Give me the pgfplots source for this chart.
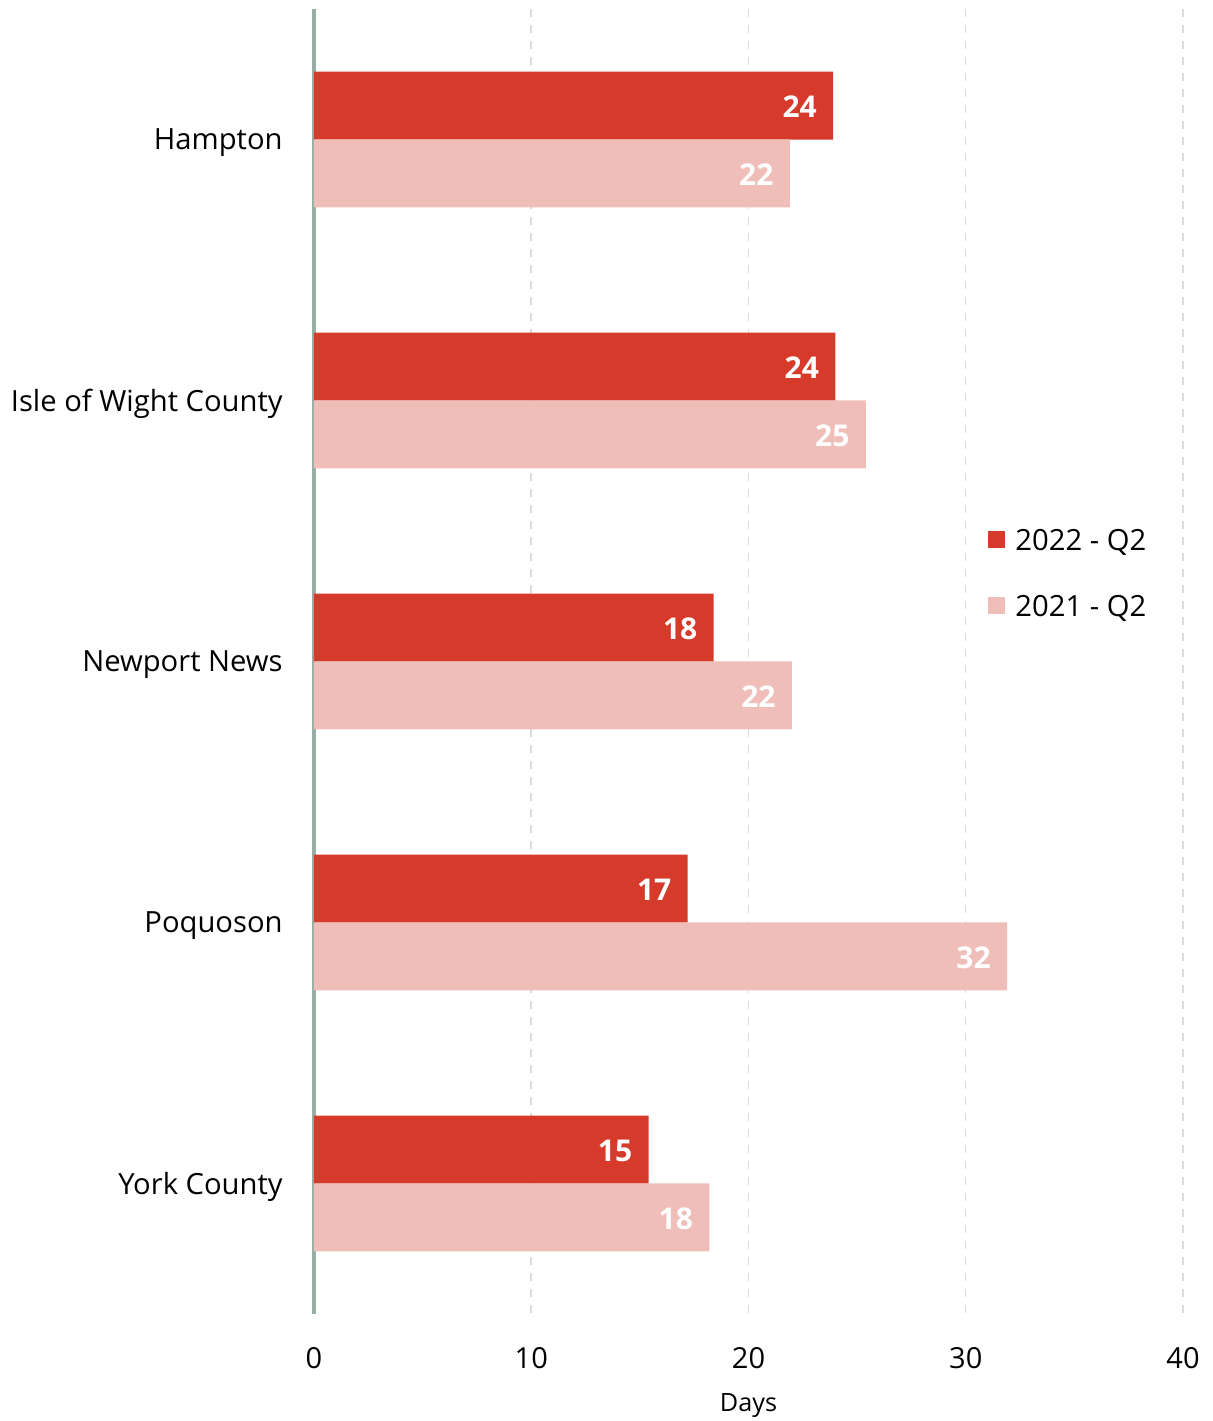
\documentclass[border=0pt]{standalone}
\usepackage{fontspec}
\setmainfont{Open Sans}
\usepackage{pgfplots}
\pgfplotsset{compat=1.18}
\definecolor{cA}{HTML}{D63A2A}
\definecolor{cB}{HTML}{F0BEB8}
\definecolor{axc}{HTML}{97AFA3}
\definecolor{gridc}{HTML}{DADADA}
\begin{document}
\begin{tikzpicture}
\begin{axis}[
  at={(0,0)}, anchor=south west, scale only axis,
  width=434.5pt, height=652.5pt,
  xmin=0, xmax=40, ymin=-0.5, ymax=4.5, y dir=reverse,
  xbar, bar width=34pt,
  xtick={0,10,20,30,40}, ytick={0,1,2,3,4},
  yticklabels={Hampton, Isle of Wight County, Newport News, Poquoson, York County},
  major tick length=0pt,
  axis x line*=bottom, axis y line*=left,
  x axis line style={draw=none},
  y axis line style={draw=axc, line width=2.25pt, -},
  xmajorgrids,
  major x grid style={draw=gridc, line width=0.75pt, dash pattern=on 4pt off 4pt},
  /pgf/number format/assume math mode=true,
  xticklabel style={font=\fontsize{14.5pt}{16pt}\selectfont, anchor=north, inner sep=0pt, yshift=-16.5pt},
  yticklabel style={font=\fontsize{14.6pt}{17pt}\selectfont, anchor=east, inner sep=0pt, xshift=-15.5pt, yshift=-1.5pt},
  xlabel={Days},
  xlabel style={font=\fontsize{12.6pt}{14pt}\selectfont, at={(axis description cs:0.5,0)}, anchor=north, inner sep=0pt, yshift=-39.5pt},
  legend style={at={(axis description cs:0.7756,0.568)}, anchor=west, draw=none, fill=none,
    inner sep=0pt, column sep=5pt, row sep=22.5pt,
    font=\fontsize{14.6pt}{16pt}\selectfont,
    nodes={inner sep=0pt, text height=10.4pt, text depth=0pt, anchor=west}},
  legend cell align=left,
  legend image code/.code={\fill[#1] (0pt,-4.25pt) rectangle (8.5pt,4.25pt);},
  nodes near coords,
  point meta=explicit symbolic,
  every node near coord/.append style={anchor=east, xshift=-8pt, yshift=-0.5pt, inner sep=0pt, text=white,
    font=\fontsize{15pt}{17pt}\selectfont\bfseries},
]
\addplot[xbar, bar shift=0pt, fill=cA, draw=none] table[x=x, y=y, meta=l] {
x y l
23.9 -0.13 24
24.0 0.87 24
18.4 1.87 18
17.2 2.87 17
15.4 3.87 15
};
\addlegendentry{2022 - Q2}
\addplot[xbar, bar shift=0pt, fill=cB, draw=none] table[x=x, y=y, meta=l] {
x y l
21.9 0.13 22
25.4 1.13 25
22.0 2.13 22
31.9 3.13 32
18.2 4.13 18
};
\addlegendentry{2021 - Q2}
\end{axis}
\pgfresetboundingbox
\path[use as bounding box] (-157pt,-53.5pt) rectangle (449.5pt,657pt);
\end{tikzpicture}
\end{document}
